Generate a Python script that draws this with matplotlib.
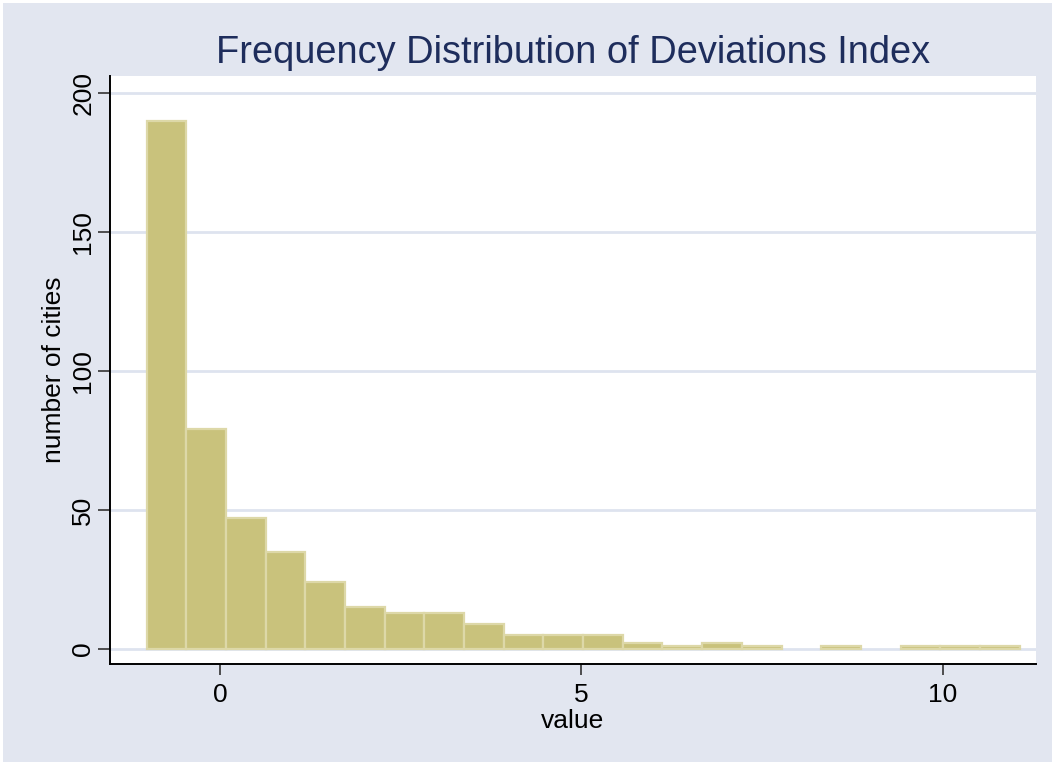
import matplotlib
matplotlib.use("Agg")
import matplotlib.pyplot as plt
from matplotlib.patches import Rectangle
import numpy as np

plt.rcParams["font.family"] = ["Liberation Sans", "DejaVu Sans"]

# histogram of the deviations index (22 bins)
bin_start = -1.014
bin_width = 0.549
counts = [190, 79, 47, 35, 24, 15, 13, 13, 9, 5, 5, 5,
          2, 1, 2, 1, 0, 1, 0, 1, 1, 1]
x_ticks = [0, 5, 10]
y_ticks = [0, 50, 100, 150, 200]

title = "Frequency Distribution of Deviations Index"
x_label = "value"
y_label = "number of cities"

bg = "#E2E6F0"
grid_col = "#DEE3EF"
bar_col = "#C9C27C"
bar_edge = "#DDD8A8"
navy = "#1E2D5C"


def main():
    fig = plt.figure(figsize=(10.55, 7.65), dpi=100, facecolor="white")
    fig.patches.append(Rectangle((3 / 1055, 3 / 765), 1049 / 1055, 759 / 765,
                                 transform=fig.transFigure,
                                 facecolor=bg, edgecolor="none", zorder=-5))

    ax = fig.add_axes([110 / 1055, 101 / 765, 926 / 1055, 588 / 765])
    ax.set_zorder(2)
    ax.set_facecolor("white")

    edges = bin_start + bin_width * np.arange(len(counts))
    for left, c in zip(edges, counts):
        if c > 0:
            ax.bar(left, c, width=bin_width, align="edge",
                   color=bar_col, edgecolor=bar_edge, linewidth=1.6,
                   zorder=3)

    ax.set_xlim(-1.52, 11.29)
    ax.set_ylim(-5.4, 206.1)

    ax.set_xticks(x_ticks)
    ax.set_yticks(y_ticks)
    ax.set_yticklabels([str(v) for v in y_ticks], rotation=90, va="center")
    ax.tick_params(axis="x", length=8, width=1.2, color="#333333",
                   labelsize=19, pad=6)
    ax.tick_params(axis="y", length=8.6, width=1.2, color="#333333",
                   labelsize=19, pad=2)

    for v in y_ticks:
        ax.axhline(v, color=grid_col, linewidth=2, zorder=1)

    for s in ["top", "right"]:
        ax.spines[s].set_visible(False)
    for s in ["left", "bottom"]:
        ax.spines[s].set_linewidth(1.4)
        ax.spines[s].set_color("black")

    ax.set_xlabel(x_label, fontsize=19, labelpad=1)
    ax.set_ylabel(y_label, fontsize=19, labelpad=4)

    fig.text(573 / 1055, 1 - 63 / 765, title, ha="center", va="baseline",
             fontsize=27.4, color=navy, zorder=3)

    fig.savefig("out.png", dpi=100, facecolor=fig.get_facecolor())
    plt.close(fig)


main()
